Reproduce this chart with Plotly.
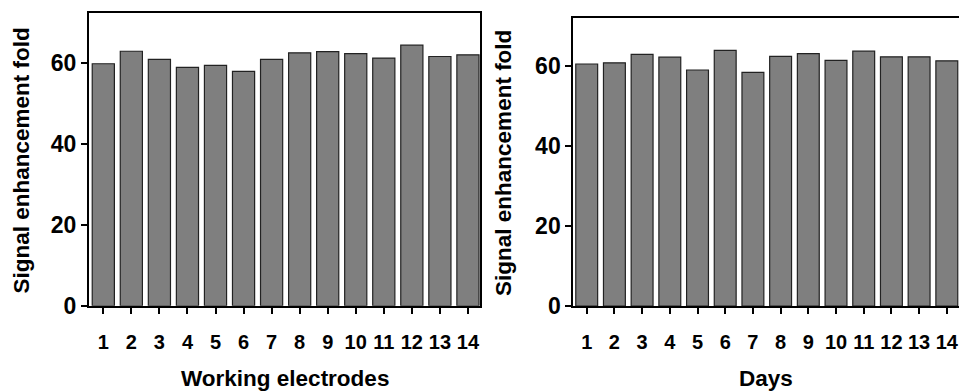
import plotly.graph_objects as go

W, H = 959, 392

categories = list(range(1, 15))
tick_labels = [str(c) for c in categories]
electrode_values = [59.9, 63.0, 61.0, 59.0, 59.5, 58.0, 61.0, 62.6, 62.9, 62.4, 61.3, 64.5, 61.7, 62.1]
day_values = [60.5, 60.8, 62.9, 62.2, 59.0, 63.9, 58.4, 62.4, 63.1, 61.4, 63.7, 62.3, 62.3, 61.3]

y_ticks = [0, 20, 40, 60]

FONT = "Liberation Sans, Arial, sans-serif"
bar_color = "#7f7f7f"
edge_color = "#222222"

fig = go.Figure()
fig.add_trace(go.Bar(x=categories, y=electrode_values, xaxis="x", yaxis="y",
                     marker=dict(color=bar_color, line=dict(color=edge_color, width=1.2))))
fig.add_trace(go.Bar(x=categories, y=day_values, xaxis="x2", yaxis="y2",
                     marker=dict(color=bar_color, line=dict(color=edge_color, width=1.2))))

def px_x(p):
    return p / W

def px_y(p):
    return 1 - p / H

xcommon = dict(tickmode="array", tickvals=categories, ticktext=tick_labels,
               showline=True, linecolor="black", linewidth=2, ticks="outside",
               ticklen=6, tickwidth=2, tickcolor="black", showgrid=False, zeroline=False,
               ticklabelstandoff=11,
               tickfont=dict(family=FONT, size=20, color="black", weight="bold"))
ycommon = dict(tickmode="array", tickvals=y_ticks, showline=True, linecolor="black",
               linewidth=2, ticks="outside", ticklen=6, tickwidth=2, tickcolor="black",
               showgrid=False, zeroline=False, ticklabelstandoff=0,
               tickfont=dict(family=FONT, size=23, color="black", weight="bold"))

fig.update_layout(
    width=W, height=H, margin=dict(l=0, r=0, t=0, b=0),
    paper_bgcolor="white", plot_bgcolor="white", showlegend=False, bargap=0.21,
    xaxis=dict(domain=[px_x(89), px_x(480)], range=[0.49, 14.43], anchor="y",
               mirror=True, **xcommon),
    yaxis=dict(domain=[px_y(316.3), px_y(13.7)], range=[0, 72.4], anchor="x",
               mirror=True, **ycommon),
    xaxis2=dict(domain=[px_x(573.3), 1.0], range=[0.516, 14.44], anchor="y2",
                mirror=True, **xcommon),
    yaxis2=dict(domain=[px_y(316.7), px_y(19)], range=[0, 71.9], anchor="x2",
                mirror=False, **ycommon),
)

title_font = dict(family=FONT, size=22.5, color="black", weight="bold")
fig.add_annotation(text="Working electrodes", xref="paper", yref="paper",
                   x=px_x(284.5), y=px_y(391.5), showarrow=False, font=title_font,
                   xanchor="center", yanchor="middle")
fig.add_annotation(text="Days", xref="paper", yref="paper",
                   x=px_x(766), y=px_y(391.5), showarrow=False, font=title_font,
                   xanchor="center", yanchor="middle")
fig.add_annotation(text="Signal enhancement fold", xref="paper", yref="paper",
                   x=px_x(21), y=px_y(166), showarrow=False, font=title_font,
                   textangle=-90, xanchor="center", yanchor="middle")
fig.add_annotation(text="Signal enhancement fold", xref="paper", yref="paper",
                   x=px_x(503.5), y=px_y(168), showarrow=False, font=title_font,
                   textangle=-90, xanchor="center", yanchor="middle")

fig.write_html("out.html")
